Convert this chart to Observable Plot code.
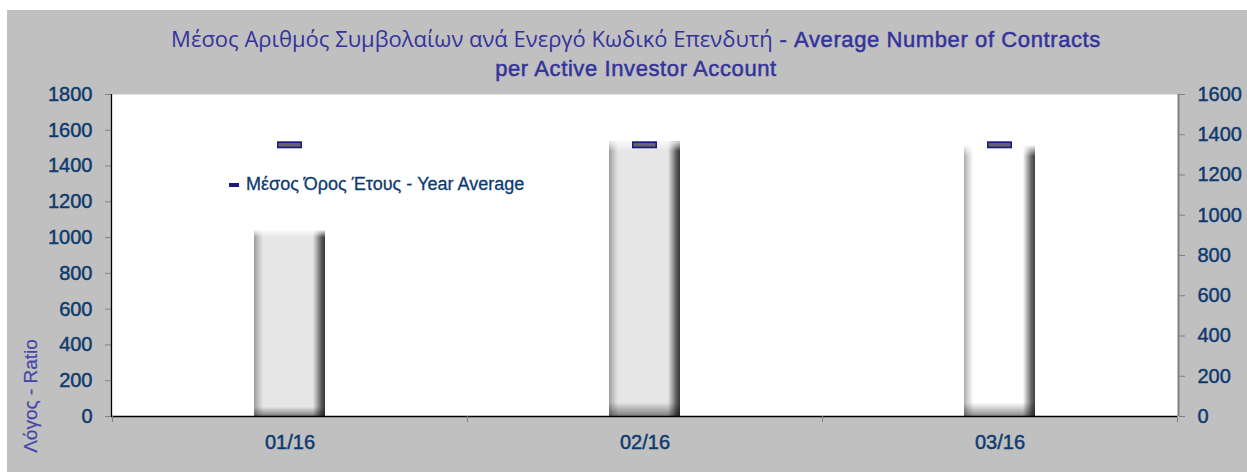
<!DOCTYPE html>
<html>
<head>
<meta charset="utf-8">
<script src="https://cdn.jsdelivr.net/npm/d3@7"></script>
<script src="https://cdn.jsdelivr.net/npm/@observablehq/plot@0.6"></script>
<style>
  html, body { margin: 0; padding: 0; background: #ffffff; }
  #wrap { position: absolute; left: 7px; top: 10px; width: 1240px; height: 462px; background: #c0c0c0; overflow: hidden; }
  #title { position: absolute; left: 29px; top: 14px; width: 1200px; text-align: center; color: #33339b; font-size: 22px; line-height: 29px; }
  #title .gr { font-family: "Open Sans", "Noto Sans", sans-serif; }
  #title .en { font-family: "Liberation Sans", sans-serif; font-size: 22px; letter-spacing: 0.6px; -webkit-text-stroke: 0.5px #33339b; }
  #chart { position: absolute; left: 0; top: 74px; }
  #chart svg { overflow: visible; }
  #chart svg text { stroke: #0d3a6e; stroke-width: 0.45px; }
  #ylabel { position: absolute; left: 24px; top: 386px; transform: translate(-50%, -50%) rotate(-90deg); white-space: nowrap; color: #4444aa; font-family: "Liberation Sans", sans-serif; font-size: 19px; -webkit-text-stroke: 0.2px #4444aa; }
  #legend { position: absolute; left: 222px; top: 164px; white-space: nowrap; color: #0d3a6e; font-family: "Liberation Sans", sans-serif; font-size: 18px; display: flex; align-items: center; -webkit-text-stroke: 0.3px #0d3a6e; }
  #legend .sw { display: inline-block; width: 10px; height: 4px; background: #1a1a80; margin-right: 7px; }
</style>
</head>
<body>
<div id="wrap">
  <div id="title"><span class="gr">Μέσος Αριθμός Συμβολαίων ανά Ενεργό Κωδικό Επενδυτή</span><span class="en"> - Average Number of Contracts<br>per Active Investor Account</span></div>
  <div id="chart"></div>
  <div id="ylabel">Λόγος - Ratio</div>
  <div id="legend"><span class="sw"></span>Μέσος Όρος Έτους - Year Average</div>
</div>
<script>
const months = ["01/16", "02/16", "03/16"];
const ratios = [1035, 1535, 1505];
const yearAverage = [1350, 1350, 1350];
const barStyle = ["light", "light", "white"];
const leftTicks = [0, 200, 400, 600, 800, 1000, 1200, 1400, 1600, 1800];
const rightTicks = [0, 200, 400, 600, 800, 1000, 1200, 1400, 1600];
const leftMax = 1800, rightMax = 1600;
const k = leftMax / rightMax;

const data = months.map((m, i) => ({month: m, value: ratios[i], avg: yearAverage[i] * k, style: barStyle[i]}));

const textColor = "#0d3a6e";
const ns = "http://www.w3.org/2000/svg";

function defsMark() {
  const g = document.createElementNS(ns, "g");
  g.innerHTML = `
  <defs>
    <linearGradient id="hLight" x1="0" y1="0" x2="1" y2="0">
      <stop offset="0" stop-color="#9a9a9a"/>
      <stop offset="0.05" stop-color="#bdbdbd"/>
      <stop offset="0.13" stop-color="#e6e6e6"/>
      <stop offset="0.83" stop-color="#e6e6e6"/>
      <stop offset="0.89" stop-color="#a4a4a4"/>
      <stop offset="0.95" stop-color="#5a5a5a"/>
      <stop offset="1" stop-color="#363636"/>
    </linearGradient>
    <linearGradient id="hWhite" x1="0" y1="0" x2="1" y2="0">
      <stop offset="0" stop-color="#a8a8a8"/>
      <stop offset="0.05" stop-color="#d0d0d0"/>
      <stop offset="0.13" stop-color="#ffffff"/>
      <stop offset="0.83" stop-color="#ffffff"/>
      <stop offset="0.89" stop-color="#b0b0b0"/>
      <stop offset="0.95" stop-color="#646464"/>
      <stop offset="1" stop-color="#404040"/>
    </linearGradient>
    <linearGradient id="vShade" x1="0" y1="0" x2="0" y2="1">
      <stop offset="0" stop-color="#ffffff" stop-opacity="0.8"/>
      <stop offset="0.035" stop-color="#ffffff" stop-opacity="0"/>
      <stop offset="0.95" stop-color="#000000" stop-opacity="0"/>
      <stop offset="1" stop-color="#000000" stop-opacity="0.45"/>
    </linearGradient>
  </defs>`;
  return g;
}

function frameLines(index, scales, values, dims) {
  const {width, height, marginLeft, marginRight, marginTop, marginBottom} = dims;
  const x0 = marginLeft, x1 = width - marginRight, y0 = marginTop, y1 = height - marginBottom;
  const g = document.createElementNS(ns, "g");
  const line = (a, b, c, d, s, w) => {
    const l = document.createElementNS(ns, "line");
    l.setAttribute("x1", a); l.setAttribute("y1", b); l.setAttribute("x2", c); l.setAttribute("y2", d);
    l.setAttribute("stroke", s); l.setAttribute("stroke-width", w);
    g.appendChild(l);
  };
  line(x1 + 0.5, y0, x1 + 0.5, y1, "#808080", 2);
  line(x0 + 0.5, y0, x0 + 0.5, y1, "#000000", 1.3);
  const xs = scales.x;
  const step = xs.step ? xs.step() : (x1 - x0) / months.length;
  const bw = xs.bandwidth();
  const bounds = months.map(m => xs(m) - (step - bw) / 2);
  bounds.push(xs(months[months.length - 1]) + bw + (step - bw) / 2);
  bounds.forEach(b => line(Math.round(b) + 0.5, y1, Math.round(b) + 0.5, y1 + 6, "#808080", 1));
  return g;
}

const chart = Plot.plot({
  width: 1240,
  height: 388,
  marginTop: 10,
  marginBottom: 56,
  marginLeft: 104,
  marginRight: 69,
  style: {fontFamily: "Liberation Sans, sans-serif", fontSize: "20px", background: "transparent", overflow: "visible"},
  x: {domain: months, paddingInner: 0.8, paddingOuter: 0.4, label: null},
  y: {domain: [0, leftMax], label: null},
  marks: [
    Plot.frame({fill: "white", stroke: "none"}),
    defsMark,
    Plot.barY(data.filter(d => d.style === "light"), {x: "month", y: "value", fill: "url(#hLight)"}),
    Plot.barY(data.filter(d => d.style === "white"), {x: "month", y: "value", fill: "url(#hWhite)"}),
    Plot.barY(data, {x: "month", y: "value", fill: "url(#vShade)"}),
    Plot.tickY(data, {x: "month", y: "avg", stroke: "#1a1a8c", strokeWidth: 7, insetLeft: 23, insetRight: 23}),
    Plot.tickY(data, {x: "month", y: "avg", stroke: "#666666", strokeWidth: 3.5, insetLeft: 24.5, insetRight: 24.5}),
    Plot.ruleY([0], {stroke: "#000000", strokeWidth: 1.5}),
    frameLines,
    Plot.axisY({anchor: "left", ticks: leftTicks, tickSize: 6, tickPadding: 13, stroke: "#808080", fill: textColor, label: null, tickFormat: d => String(d)}),
    Plot.axisY({anchor: "right", ticks: rightTicks.map(v => v * k), tickSize: 6, tickPadding: 13, stroke: "#808080", fill: textColor, label: null, tickFormat: d => String(Math.round(d / k))}),
    Plot.axisX({anchor: "bottom", tickSize: 0, tickPadding: 18, fill: textColor, label: null})
  ]
});
document.getElementById("chart").appendChild(chart);
</script>
</body>
</html>
